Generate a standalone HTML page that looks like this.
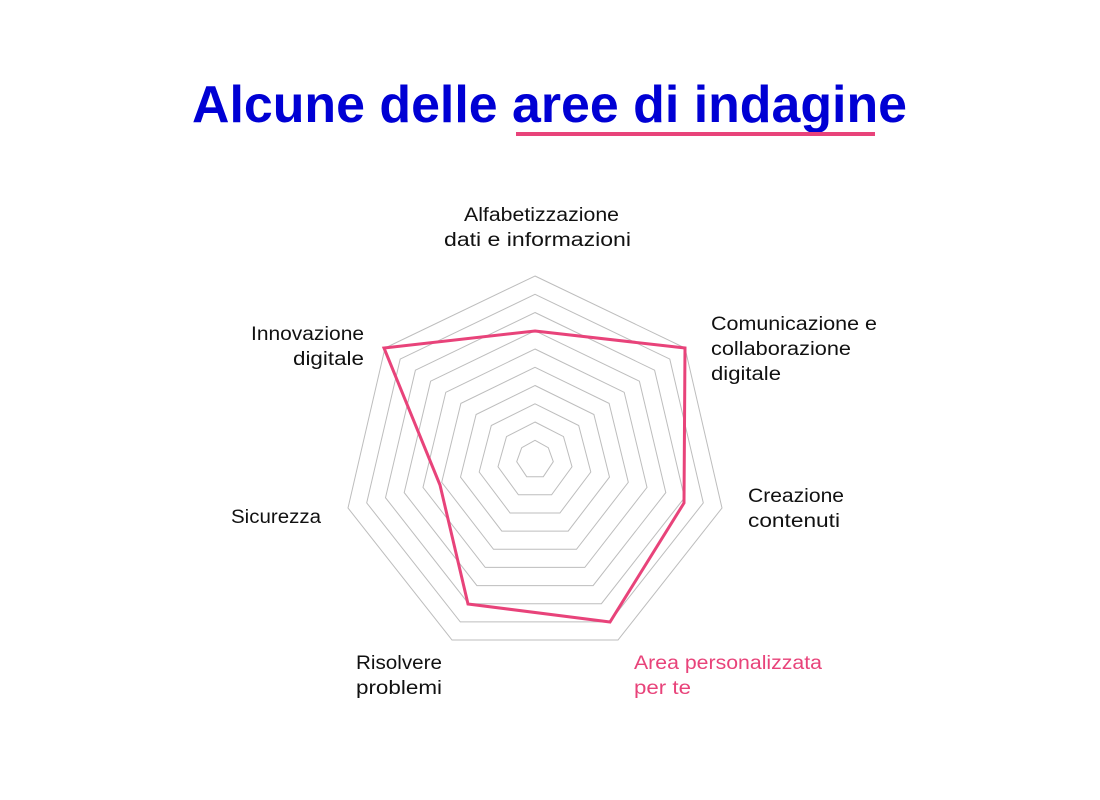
<!DOCTYPE html>
<html><head><meta charset="utf-8"><style>html,body{margin:0;padding:0;background:#fff}svg{display:block}</style></head>
<body>
<svg width="1100" height="800" viewBox="0 0 1100 800" xmlns="http://www.w3.org/2000/svg" font-family="Liberation Sans, sans-serif">
<rect width="1100" height="800" fill="#fff"/>
<text x="192" y="122" font-size="52" font-weight="bold" fill="#0000d4" textLength="715" lengthAdjust="spacingAndGlyphs">Alcune delle aree di indagine</text>
<rect x="516" y="132" width="359" height="4" fill="#e8437a"/>
<g id="rings" fill="none" stroke="#bdbdbd" stroke-width="1"></g>
<polygon points="535,331 685,348 684,503 610,622 468,604 440,485 384,348" fill="none" stroke="#e8437a" stroke-width="3" stroke-linejoin="miter"/>
<g font-size="19" fill="#111">
<text x="464" y="221" textLength="155" lengthAdjust="spacingAndGlyphs">Alfabetizzazione</text>
<text x="444" y="246" textLength="187" lengthAdjust="spacingAndGlyphs">dati e informazioni</text>
<text x="251" y="340" textLength="113" lengthAdjust="spacingAndGlyphs">Innovazione</text>
<text x="293" y="365" textLength="71" lengthAdjust="spacingAndGlyphs">digitale</text>
<text x="711" y="330" textLength="166" lengthAdjust="spacingAndGlyphs">Comunicazione e</text>
<text x="711" y="355" textLength="140" lengthAdjust="spacingAndGlyphs">collaborazione</text>
<text x="711" y="380" textLength="70" lengthAdjust="spacingAndGlyphs">digitale</text>
<text x="748" y="502" textLength="96" lengthAdjust="spacingAndGlyphs">Creazione</text>
<text x="748" y="527" textLength="92" lengthAdjust="spacingAndGlyphs">contenuti</text>
<text x="231" y="523" textLength="90" lengthAdjust="spacingAndGlyphs">Sicurezza</text>
<text x="356" y="669" textLength="86" lengthAdjust="spacingAndGlyphs">Risolvere</text>
<text x="356" y="694" textLength="86" lengthAdjust="spacingAndGlyphs">problemi</text>
<text x="634" y="669" fill="#e8437a" textLength="188" lengthAdjust="spacingAndGlyphs">Area personalizzata</text>
<text x="634" y="694" fill="#e8437a" textLength="57" lengthAdjust="spacingAndGlyphs">per te</text>
</g>
<script>
var inner=[[535,440.3],[548.3,447.7],[553.3,461.7],[543.3,476.7],[526.7,476.7],[516.7,461.7],[521.7,447.7]];
var outer=[[535,276],[685,348],[722,508],[618,640],[452,640],[348,508],[385,348]];
var g=document.getElementById('rings');
for(var k=0;k<10;k++){var t=k/9,p=[];for(var i=0;i<7;i++){p.push((inner[i][0]+(outer[i][0]-inner[i][0])*t).toFixed(1)+','+(inner[i][1]+(outer[i][1]-inner[i][1])*t).toFixed(1));}
var e=document.createElementNS('http://www.w3.org/2000/svg','polygon');e.setAttribute('points',p.join(' '));g.appendChild(e);}
</script>
</svg>
</body></html>
